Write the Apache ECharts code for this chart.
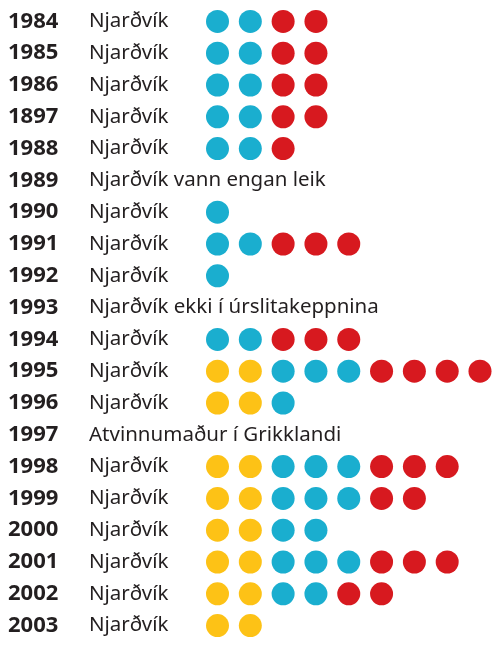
<!DOCTYPE html>
<html>
<head>
<meta charset="utf-8">
<script src="https://cdn.jsdelivr.net/npm/echarts@6/dist/echarts.min.js"></script>
<style>
  html, body { margin: 0; padding: 0; background: #fff; }
  #chart { width: 500px; height: 645px; }
</style>
</head>
<body>
<div id="chart"></div>
<script>
// rows, top to bottom (the 1897 label is as printed)
const years = ['1984', '1985', '1986', '1897', '1988', '1989', '1990', '1991', '1992', '1993',
  '1994', '1995', '1996', '1997', '1998', '1999', '2000', '2001', '2002', '2003'];
const notes = ['Njarðvík', 'Njarðvík', 'Njarðvík', 'Njarðvík', 'Njarðvík', 'Njarðvík vann engan leik',
  'Njarðvík', 'Njarðvík', 'Njarðvík', 'Njarðvík ekki í úrslitakeppnina', 'Njarðvík', 'Njarðvík',
  'Njarðvík', 'Atvinnumaður í Grikklandi', 'Njarðvík', 'Njarðvík', 'Njarðvík', 'Njarðvík',
  'Njarðvík', 'Njarðvík'];
// dots per row, drawn in order yellow, blue, red
const yellow = [0, 0, 0, 0, 0, 0, 0, 0, 0, 0, 0, 2, 2, 0, 2, 2, 2, 2, 2, 2];
const blue   = [2, 2, 2, 2, 2, 0, 1, 2, 1, 0, 2, 3, 1, 0, 3, 3, 2, 3, 2, 0];
const red    = [2, 2, 2, 2, 1, 0, 0, 3, 0, 0, 3, 4, 0, 0, 3, 2, 0, 3, 2, 0];

const colors = { yellow: '#fdc216', blue: '#1aaecf', red: '#d7191f' };

// build dot positions: x = slot index, y = row
const buildDots = () => {
  const out = { yellow: [], blue: [], red: [] };
  years.forEach((y, i) => {
    let slot = 0;
    for (let k = 0; k < yellow[i]; k++) out.yellow.push([slot++, i]);
    for (let k = 0; k < blue[i]; k++) out.blue.push([slot++, i]);
    for (let k = 0; k < red[i]; k++) out.red.push([slot++, i]);
  });
  return out;
};
const dots = buildDots();

const chart = echarts.init(document.getElementById('chart'));
const gridLeft = 217.5;

chart.setOption({
  animation: false,
  grid: { left: gridLeft, right: 20, top: 5.5, bottom: 3.5 },
  xAxis: {
    type: 'value', min: 0, max: 8, show: false
  },
  yAxis: {
    type: 'category',
    data: years,
    inverse: true,
    axisLine: { show: false },
    axisTick: { show: false },
    splitLine: { show: false },
    axisLabel: {
      align: 'left',
      margin: gridLeft - 8,
      formatter: (val, idx) => `{y|${val}}{n|${notes[idx]}}`,
      rich: {
        y: { fontFamily: 'Noto Sans', fontWeight: 'bold', fontSize: 22, color: '#231f20', width: 81 },
        n: { fontFamily: 'Noto Sans', fontSize: 20.5, color: '#231f20' }
      }
    }
  },
  series: ['yellow', 'blue', 'red'].map(key => ({
    type: 'scatter',
    data: dots[key],
    symbolSize: 23,
    itemStyle: { color: colors[key], opacity: 1 },
    silent: true
  }))
});
</script>
</body>
</html>
